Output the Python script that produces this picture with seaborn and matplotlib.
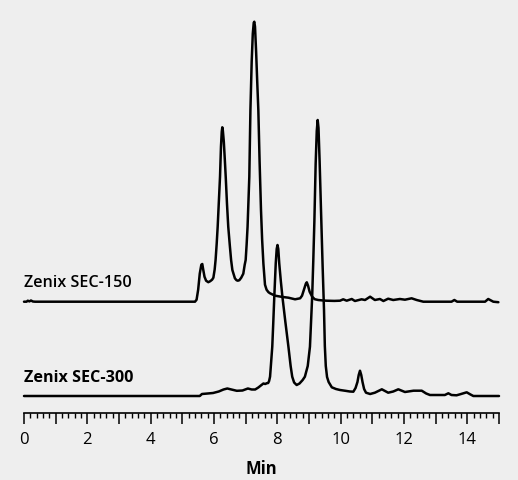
import matplotlib
matplotlib.use("Agg")
import matplotlib.pyplot as plt
import matplotlib.ticker as mticker
import numpy as np
import pandas as pd
import seaborn as sns

# ---- data (time in min, detector signal in arbitrary units) ----
sec150_time = [0.00, 0.08, 0.12, 0.17, 0.22, 0.28, 0.35, 5.40, 5.45, 5.50, 5.55, 5.60, 5.63, 5.66,
               5.70, 5.75, 5.82, 5.88, 5.94, 5.98, 6.02, 6.05, 6.085, 6.116, 6.15, 6.19, 6.22,
               6.245, 6.262, 6.28, 6.31, 6.34, 6.37, 6.41, 6.45, 6.50, 6.54, 6.58, 6.66, 6.71,
               6.75, 6.80, 6.86, 6.925, 6.97, 7.00, 7.03, 7.06, 7.115, 7.15, 7.19, 7.225, 7.255,
               7.273, 7.295, 7.33, 7.365, 7.40, 7.44, 7.484, 7.52, 7.56, 7.61, 7.66, 7.72, 7.77,
               7.93, 8.15, 8.35, 8.56, 8.72, 8.78, 8.84, 8.90, 8.93, 8.97, 9.02, 9.10, 9.18,
               9.29, 9.45, 9.55, 9.80, 9.98, 10.08, 10.19, 10.35, 10.45, 10.66, 10.77, 10.93,
               11.08, 11.24, 11.35, 11.50, 11.66, 11.87, 12.03, 12.24, 12.40, 12.61, 13.50,
               13.59, 13.68, 14.56, 14.66, 14.82, 14.98]
sec150_signal = [0, 0, 1.0, 0.3, 1.2, 0.2, 0, 0, 2, 12, 28, 37, 37.7, 32,
                 25, 21, 19.5, 20.5, 22, 24, 32, 41.7, 58, 75, 98, 125, 155,
                 170, 174.4, 171, 160, 143, 125, 98, 75, 56, 41.7, 31.7, 23.4, 21.5,
                 21, 21.5, 24, 28, 37, 41.7, 57, 75, 125, 191.7, 240, 268, 279,
                 280, 275, 250, 220, 191.7, 140, 91.7, 62, 38, 17, 12, 9.5, 8.4,
                 6, 4.8, 4, 2.4, 3.4, 6, 12, 18, 19.4, 16, 10, 5, 2.5,
                 1.7, 1.2, 1.0, 0.8, 1.0, 2.4, 1.0, 2.7, 0.7, 2.4, 1.7, 5.0,
                 1.7, 2.7, 0.7, 3.0, 1.7, 2.7, 2.0, 3.4, 1.7, 0, 0,
                 1.7, 0, 0, 2.7, 0, -0.5]

sec300_time = [0.00, 5.55, 5.62, 5.80, 5.97, 6.15, 6.30, 6.42, 6.55, 6.72, 6.90, 7.07, 7.19,
               7.30, 7.40, 7.50, 7.56, 7.62, 7.66, 7.71, 7.74, 7.77, 7.80, 7.84, 7.87, 7.904,
               7.95, 7.98, 8.005, 8.03, 8.06, 8.11, 8.16, 8.25, 8.35, 8.42, 8.47, 8.53, 8.61,
               8.70, 8.80, 8.87, 8.96, 9.03, 9.10, 9.135, 9.17, 9.21, 9.245, 9.274, 9.30,
               9.335, 9.379, 9.43, 9.474, 9.50, 9.53, 9.57, 9.62, 9.72, 9.85, 9.98, 10.15,
               10.29, 10.40, 10.47, 10.53, 10.57, 10.61, 10.65, 10.69, 10.74, 10.80, 10.93,
               11.08, 11.30, 11.50, 11.66, 11.82, 12.03, 12.30, 12.56, 12.70, 12.82, 13.29,
               13.40, 13.50, 13.66, 13.77, 13.98, 14.10, 14.19, 15.00]
sec300_signal = [0, 0, 2, 2.5, 3, 4.5, 6.5, 7.5, 6.5, 5.2, 5.5, 7.5, 6.5,
                 6.5, 8.5, 11, 12.5, 12, 12.7, 13, 15, 19.3, 32, 49.3, 72, 99.3,
                 132.7, 147, 151, 147, 132.7, 115, 99.3, 75, 49.3, 30, 19.3, 13.5, 11,
                 12.5, 16, 19.3, 30, 49.3, 99.3, 135, 175, 232, 265, 276, 268,
                 235, 186, 130, 86, 50, 30, 19, 14, 8.7, 7, 6, 5.2,
                 4.5, 4.3, 8, 14, 21, 25.3, 21, 14, 7, 3.3, 2,
                 3.3, 6.7, 3.3, 4.5, 6.7, 4, 5.3, 5.3, 2.5, 1, 1,
                 2.7, 1, 0.7, 1.7, 3.7, 1.5, 0, 0]

column_names = ["Zenix SEC-150", "Zenix SEC-300"]
x_ticks_major = list(range(0, 16))
x_tick_labels = [str(v) if v % 2 == 0 else "" for v in x_ticks_major]
x_label = "Min"

# ---- layout / style ----
BG = "#eeeeee"
OFFSET_150 = 94.3          # vertical stacking offset of the upper trace
W, H, DPI = 518, 480, 100

sns.set_theme(style="white")
plt.rcParams["font.family"] = ["Open Sans", "DejaVu Sans"]

df = pd.concat([
    pd.DataFrame({"time": sec150_time,
                  "signal": np.array(sec150_signal) + OFFSET_150,
                  "column": column_names[0]}),
    pd.DataFrame({"time": sec300_time,
                  "signal": sec300_signal,
                  "column": column_names[1]}),
], ignore_index=True)

fig = plt.figure(figsize=(W / DPI, H / DPI), dpi=DPI, facecolor=BG)
ax = fig.add_axes([24 / W, 67 / H, 475 / W, 413 / H])
ax.set_facecolor(BG)

sns.lineplot(data=df, x="time", y="signal", units="column", estimator=None,
             sort=False, color="black", linewidth=1.8, ax=ax, legend=False)
for ln in ax.lines:
    ln.set_clip_on(False)
    ln.set_solid_joinstyle("round")

ax.set_xlim(0, 15)
ax.set_ylim(-17, 396)

for s in ["top", "left", "right"]:
    ax.spines[s].set_visible(False)
ax.spines["bottom"].set_linewidth(1.2)
ax.spines["bottom"].set_color("black")

ax.xaxis.set_major_locator(mticker.FixedLocator(x_ticks_major))
ax.xaxis.set_major_formatter(mticker.FixedFormatter(x_tick_labels))
ax.xaxis.set_minor_locator(mticker.MultipleLocator(0.2))
ax.tick_params(axis="x", which="major", direction="out", length=8, width=1.1,
               color="black", labelsize=12, labelcolor="black", pad=5.5, bottom=True)
ax.tick_params(axis="x", which="minor", direction="out", length=3.6, width=1.0,
               color="black", bottom=True)
ax.set_yticks([])
ax.set_ylabel("")
ax.set_xlabel(x_label, fontsize=12, fontweight="bold", color="black", labelpad=9)

ax.text(0, 109.3, column_names[0], fontsize=11.6, fontweight="semibold",
        ha="left", va="baseline", color="black")
ax.text(0, 14.3, column_names[1], fontsize=11.6, fontweight="bold",
        ha="left", va="baseline", color="black")

fig.savefig("out.png", dpi=DPI, facecolor=BG)
